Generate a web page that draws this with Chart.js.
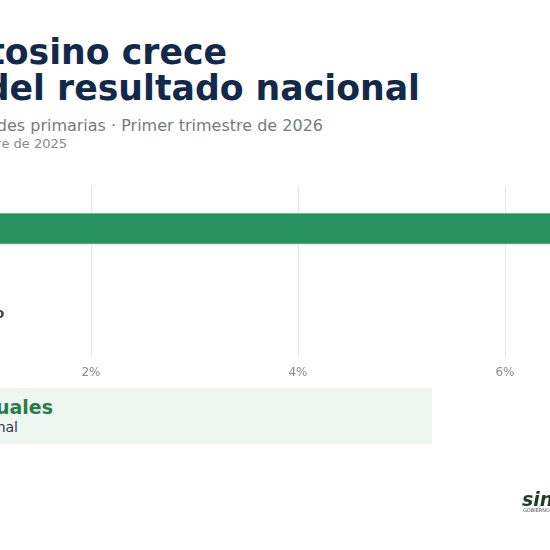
<!DOCTYPE html>
<html>
<head>
<meta charset="utf-8">
<script src="https://cdn.jsdelivr.net/npm/chart.js@4/dist/chart.umd.min.js"></script>
<style>
  html, body { margin: 0; padding: 0; background: #fff; }
  body { width: 550px; height: 550px; overflow: hidden; position: relative; font-family: "DejaVu Sans", sans-serif; }
  .txt { position: absolute; white-space: nowrap; text-align: right; line-height: 1; }
  #wrap { position: absolute; left: -300px; top: 0; width: 1050px; height: 550px; }
  #box { position: absolute; left: -300px; top: 388px; width: 732px; height: 56px; background: #eef6f0; }
</style>
</head>
<body>
<div class="txt" style="right:323px; top:35px; font-size:34.7px; font-weight:bold; color:#13294b;">El sector primario potosino crece</div>
<div class="txt" style="right:130px; top:71px; font-size:34.7px; font-weight:bold; color:#13294b;">por encima del resultado nacional</div>
<div class="txt" style="right:227px; top:118px; font-size:16px; color:#7a7a7a;">Variación anual de actividades primarias · Primer trimestre de 2026</div>
<div class="txt" style="right:483px; top:137px; font-size:13px; color:#8a8a8a;">Comparado con el primer trimestre de 2025</div>

<div id="wrap"><canvas id="chart" width="1050" height="550"></canvas></div>

<div id="box"></div>
<div class="txt" style="right:497px; top:398px; font-size:19px; font-weight:bold; color:#2b7a4b;">+7.1 puntos porcentuales</div>
<div class="txt" style="right:532px; top:420px; font-size:14px; color:#2e3b4e;">por encima del promedio nacional</div>

<div class="txt" style="left:522px; top:490px; font-size:19px; font-weight:bold; font-style:italic; color:#1f3d24; text-align:left;">sin</div>
<div class="txt" style="left:523px; top:508px; font-size:5px; color:#555; text-align:left;">GOBIERNO</div>

<script>
const categories = ['San Luis Potosí', 'Nacional'];
const values = [7.4, 0.3];
const barNotes = ['7.4%', 'Estancado'];
const tickValues = [0, 2, 4, 6, 8];

const barNotesPlugin = {
  id: 'barNotes',
  afterDatasetsDraw(chart) {
    const ctx = chart.ctx;
    const meta = chart.getDatasetMeta(0);
    ctx.save();
    ctx.font = 'bold 14px "DejaVu Sans"';
    ctx.fillStyle = '#444';
    ctx.textAlign = 'left';
    ctx.textBaseline = 'middle';
    meta.data.forEach((bar, i) => {
      ctx.fillText(barNotes[i], bar.x + 8, bar.y);
    });
    ctx.restore();
  }
};

document.addEventListener('DOMContentLoaded', function() {
  const ctx = document.getElementById('chart').getContext('2d');
  new Chart(ctx, {
    type: 'bar',
    data: {
      labels: categories,
      datasets: [{
        data: values,
        backgroundColor: '#25935b',
        borderColor: '#7fcf9f',
        borderWidth: 1,
        borderSkipped: false,
        barThickness: 31
      }]
    },
    options: {
      indexAxis: 'y',
      responsive: false,
      animation: false,
      layout: { padding: { left: 184, right: 38, top: 186, bottom: 161 } },
      plugins: { legend: { display: false }, tooltip: { enabled: false } },
      scales: {
        y: { display: false },
        x: {
          min: 0,
          max: 8,
          afterBuildTicks: axis => { axis.ticks = tickValues.map(v => ({ value: v })); },
          border: { display: false },
          grid: { color: '#e6e6e6', lineWidth: 1, drawTicks: false },
          ticks: {
            padding: 9,
            color: '#8a8a8a',
            font: { family: 'DejaVu Sans', size: 12 },
            callback: v => v + '%'
          }
        }
      }
    },
    plugins: [barNotesPlugin]
  });
});
</script>
</body>
</html>
